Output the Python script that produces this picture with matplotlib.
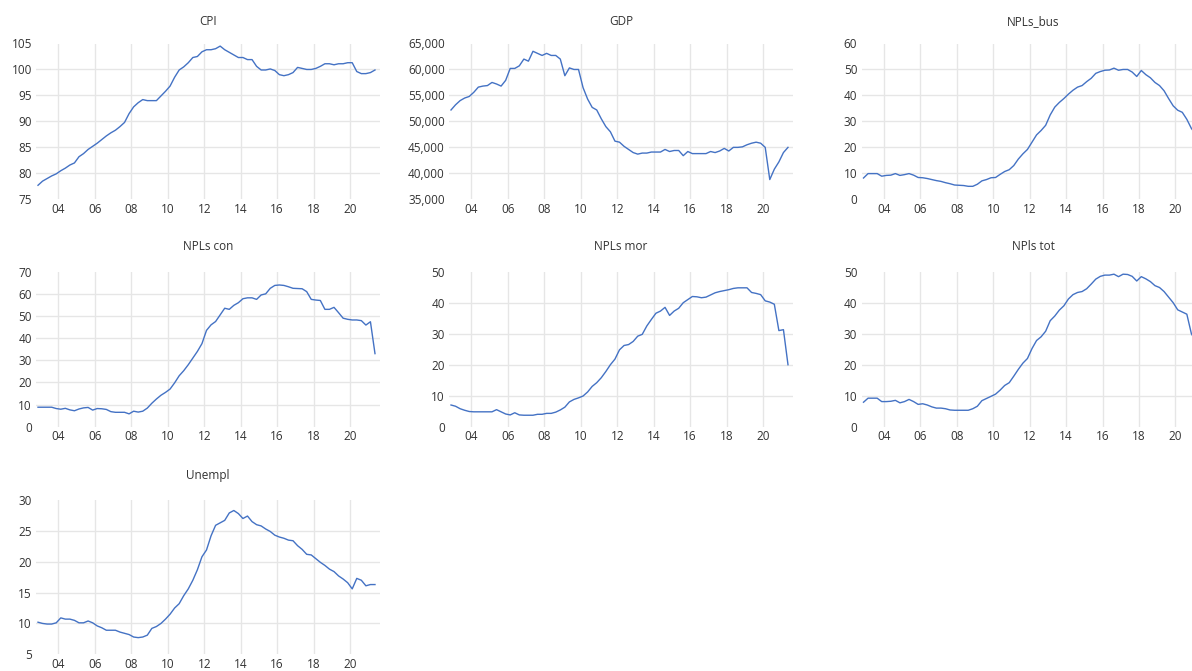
import matplotlib
matplotlib.use("Agg")
import matplotlib.pyplot as plt
import pandas as pd

# ---------------- data (quarterly, 2002Q4 .. 2021Q2) ----------------
quarters = pd.period_range("2002Q4", periods=75, freq="Q")

cpi = [77.7, 78.5, 79.0, 79.5, 79.9, 80.5, 81.0, 81.6, 82.0, 83.2,
       83.8, 84.6, 85.2, 85.8, 86.5, 87.2, 87.8, 88.3, 89.0, 89.8,
       91.5, 92.8, 93.6, 94.2, 94.0, 94.0, 94.0, 94.9, 95.8, 96.8,
       98.5, 99.9, 100.5, 101.3, 102.3, 102.5, 103.4, 103.8, 103.8, 104.0,
       104.5, 103.8, 103.3, 102.8, 102.3, 102.3, 101.9, 101.9, 100.6, 99.9,
       99.9, 100.1, 99.8, 99.0, 98.8, 99.0, 99.4, 100.4, 100.2, 100.0,
       100.0, 100.2, 100.6, 101.1, 101.1, 100.9, 101.1, 101.1, 101.3, 101.3,
       99.6, 99.2, 99.2, 99.4, 99.9]

gdp_thousands = [52.2, 53.2, 54.0, 54.5, 54.8, 55.6, 56.6, 56.8, 56.9, 57.5,
                 57.2, 56.8, 57.9, 60.2, 60.2, 60.7, 62.0, 61.6, 63.5, 63.1,
                 62.7, 63.1, 62.7, 62.7, 62.0, 58.8, 60.3, 60.0, 60.0, 56.5,
                 54.3, 52.7, 52.2, 50.5, 49.0, 48.0, 46.2, 46.0, 45.2, 44.6,
                 44.0, 43.7, 43.9, 43.9, 44.1, 44.1, 44.1, 44.6, 44.2, 44.4,
                 44.4, 43.4, 44.2, 43.8, 43.8, 43.8, 43.8, 44.2, 44.0, 44.3,
                 44.8, 44.3, 45.0, 45.0, 45.1, 45.5, 45.8, 46.0, 45.8, 45.0,
                 38.8, 40.8, 42.2, 44.0, 45.0]
gdp = [v * 1000 for v in gdp_thousands]

npls_bus = [8.2, 9.9, 9.9, 9.9, 8.9, 9.2, 9.3, 9.9, 9.2, 9.5,
            9.9, 9.3, 8.4, 8.3, 8.0, 7.6, 7.2, 6.9, 6.4, 6.0,
            5.5, 5.4, 5.3, 5.0, 5.0, 5.8, 7.1, 7.6, 8.3, 8.4,
            9.6, 10.7, 11.4, 13.0, 15.5, 17.5, 19.2, 22.0, 24.8, 26.5,
            28.5, 32.5, 35.5, 37.3, 38.8, 40.5, 42.0, 43.2, 43.8, 45.3,
            46.6, 48.5, 49.2, 49.7, 49.8, 50.5, 49.7, 50.0, 50.0, 49.0,
            47.3, 49.6, 48.0, 46.8, 45.0, 43.8, 41.8, 38.8, 36.0, 34.3,
            33.5, 30.8, 27.3, 25.0, 23.0]

npls_con = [8.8, 8.8, 8.8, 8.8, 8.2, 7.9, 8.3, 7.6, 7.2, 8.0,
            8.5, 8.7, 7.5, 8.2, 8.1, 7.8, 6.8, 6.5, 6.5, 6.5,
            5.8, 7.0, 6.6, 7.0, 8.4, 10.6, 12.5, 14.2, 15.5, 17.0,
            19.8, 23.0, 25.3, 28.0, 31.0, 34.0, 37.5, 43.5, 46.0, 47.5,
            50.5, 53.5, 53.0, 54.8, 56.0, 57.8, 58.2, 58.2, 57.5, 59.5,
            60.0, 62.5, 63.8, 64.0, 63.8, 63.2, 62.5, 62.4, 62.3, 61.0,
            57.5, 57.2, 57.0, 53.0, 53.0, 53.9, 51.5, 49.0, 48.5, 48.2,
            48.2, 47.9, 45.9, 47.4, 33.0]

npls_mor = [7.0, 6.6, 5.8, 5.3, 4.9, 4.8, 4.8, 4.8, 4.8, 4.8,
            5.5, 4.8, 4.1, 3.8, 4.5, 3.8, 3.7, 3.7, 3.7, 4.0,
            4.0, 4.3, 4.3, 4.7, 5.4, 6.3, 8.0, 8.8, 9.3, 9.9,
            11.2, 13.0, 14.2, 15.8, 17.8, 20.0, 21.8, 24.8, 26.2, 26.5,
            27.5, 29.2, 29.8, 32.5, 34.6, 36.6, 37.3, 38.5, 35.9, 37.3,
            38.2, 40.0, 41.0, 42.0, 41.9, 41.6, 41.8, 42.5, 43.2, 43.6,
            43.9, 44.2, 44.6, 44.8, 44.8, 44.8, 43.3, 43.0, 42.6, 40.6,
            40.2, 39.5, 31.0, 31.3, 20.0]

npls_tot = [7.9, 9.2, 9.2, 9.2, 8.1, 8.1, 8.2, 8.5, 7.7, 8.1,
            8.8, 8.1, 7.2, 7.4, 7.0, 6.4, 6.0, 6.0, 5.8, 5.4,
            5.3, 5.3, 5.3, 5.3, 5.8, 6.6, 8.4, 9.1, 9.8, 10.5,
            11.8, 13.3, 14.2, 16.3, 18.5, 20.5, 22.0, 25.2, 27.8, 29.0,
            30.8, 34.2, 35.7, 37.6, 39.0, 41.2, 42.6, 43.3, 43.6, 44.5,
            46.0, 47.6, 48.5, 48.9, 48.9, 49.2, 48.4, 49.2, 49.1, 48.5,
            47.0, 48.4, 47.7, 46.8, 45.5, 44.9, 43.6, 41.8, 40.0, 37.7,
            37.0, 36.3, 30.0, 27.5, 25.0]

unempl = [10.2, 10.0, 9.9, 9.9, 10.1, 10.9, 10.7, 10.7, 10.5, 10.1,
          10.1, 10.4, 10.1, 9.6, 9.3, 8.9, 8.9, 8.9, 8.6, 8.4,
          8.2, 7.8, 7.7, 7.8, 8.1, 9.2, 9.5, 10.0, 10.7, 11.5,
          12.5, 13.2, 14.5, 15.6, 17.0, 18.7, 20.8, 21.9, 24.2, 25.9,
          26.3, 26.7, 27.9, 28.3, 27.8, 27.0, 27.4, 26.5, 26.0, 25.8,
          25.3, 24.9, 24.3, 24.0, 23.8, 23.5, 23.4, 22.6, 22.0, 21.2,
          21.1, 20.5, 19.9, 19.4, 18.8, 18.4, 17.7, 17.2, 16.6, 15.6,
          17.3, 17.0, 16.1, 16.3, 16.3]

titles = ["CPI", "GDP", "NPLs_bus", "NPLs con", "NPLs mor", "NPls tot", "Unempl"]
series = [cpi, gdp, npls_bus, npls_con, npls_mor, npls_tot, unempl]
y_ranges = [(75, 105, 5), (35000, 65000, 5000), (0, 60, 10), (0, 70, 10),
            (0, 50, 10), (0, 50, 10), (5, 30, 5)]
x_tick_years = list(range(2004, 2021, 2))
x_tick_labels = ["%02d" % (y % 100) for y in x_tick_years]

# mid-quarter decimal year positions
xpos = [q.year + (q.quarter - 1) / 4 + 0.125 for q in quarters]

# ---------------- layout (pixels) ----------------
W, H = 1192, 671
col_left = [36, 449, 861.5]
ax_w = 344
row_top = [43.5, 271.7, 500.0]
row_bot = [199.3, 426.7, 654.3]
title_y = [21.5, 246.7, 475.0]

LINE = "#4472C4"
GRID = "#e6e6e6"
TXT = "#333333"
FONT = ["Open Sans", "DejaVu Sans"]
plt.rcParams["font.family"] = FONT

fig = plt.figure(figsize=(W / 100, H / 100), dpi=100)
fig.patch.set_facecolor("white")

for k, (title, vals, (ymin, ymax, step)) in enumerate(zip(titles, series, y_ranges)):
    r, c = divmod(k, 3)
    l = col_left[c]
    t = row_top[r]
    b = row_bot[r]
    ax = fig.add_axes([l / W, 1 - b / H, ax_w / W, (b - t) / H])
    ax.set_xlim(2002.765, 2021.65)
    ax.set_ylim(ymin, ymax)
    yt = list(range(ymin, ymax + 1, step))
    ax.set_yticks(yt)
    if ymax >= 1000:
        ax.set_yticklabels(["{:,}".format(v) for v in yt])
    ax.set_xticks(x_tick_years)
    ax.set_xticklabels(x_tick_labels)
    for v in yt[1:-1]:
        ax.axhline(v, color=GRID, lw=1.0, zorder=0)
    for xv in x_tick_years:
        ax.axvline(xv, color=GRID, lw=1.0, zorder=0)
    for s in ax.spines.values():
        s.set_visible(False)
    ax.tick_params(axis="both", length=0, labelsize=8.5, labelcolor=TXT)
    ax.tick_params(axis="x", pad=2.5)
    ax.tick_params(axis="y", pad=3)
    ax.plot(xpos, vals, color=LINE, lw=1.0, zorder=3)
    fig.text((l + ax_w / 2) / W, 1 - title_y[r] / H, title, ha="center",
             va="center", fontsize=8.5, color=TXT)

fig.savefig("out.png", dpi=100)
